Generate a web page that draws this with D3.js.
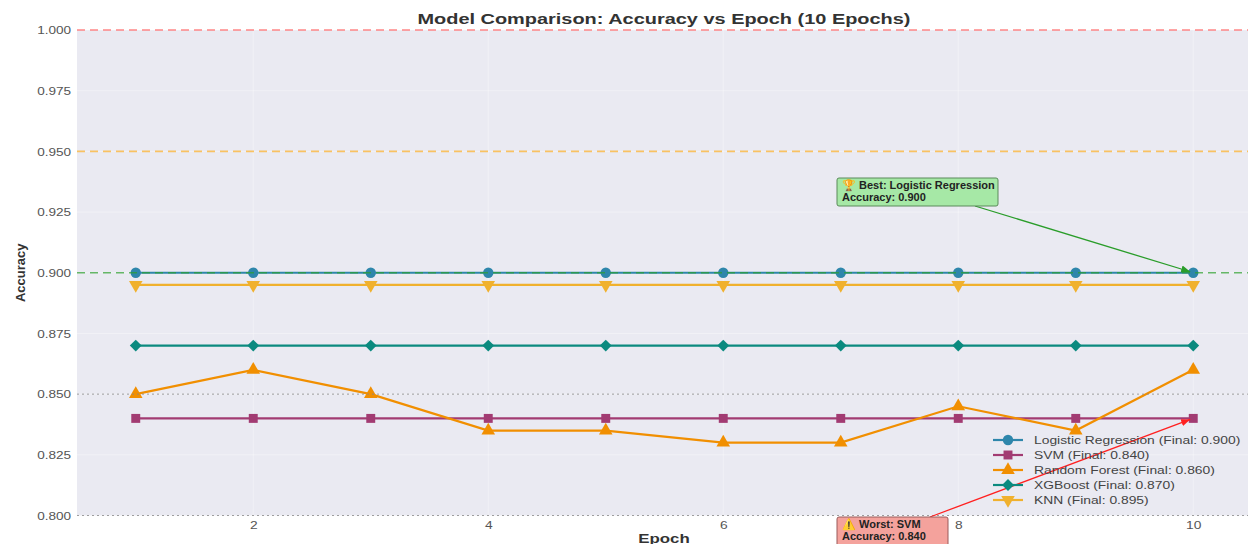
<!DOCTYPE html>
<html>
<head>
<meta charset="utf-8">
<script src="https://cdn.jsdelivr.net/npm/d3@7"></script>
<style>
  body { margin: 0; background: #fff; }
  svg { display: block; font-family: "Liberation Sans", Arial, sans-serif; }
</style>
</head>
<body>
<div id="chart"></div>
<script>
// data
const epochs = [1, 2, 3, 4, 5, 6, 7, 8, 9, 10];
const modelNames = ["Logistic Regression", "SVM", "Random Forest", "XGBoost", "KNN"];
const lrAcc = [0.900, 0.900, 0.900, 0.900, 0.900, 0.900, 0.900, 0.900, 0.900, 0.900];
const svmAcc = [0.840, 0.840, 0.840, 0.840, 0.840, 0.840, 0.840, 0.840, 0.840, 0.840];
const rfAcc = [0.850, 0.860, 0.850, 0.835, 0.835, 0.830, 0.830, 0.845, 0.835, 0.860];
const xgbAcc = [0.870, 0.870, 0.870, 0.870, 0.870, 0.870, 0.870, 0.870, 0.870, 0.870];
const knnAcc = [0.895, 0.895, 0.895, 0.895, 0.895, 0.895, 0.895, 0.895, 0.895, 0.895];
const xTicks = [2, 4, 6, 8, 10];
const yTicks = [0.800, 0.825, 0.850, 0.875, 0.900, 0.925, 0.950, 0.975, 1.000];

const width = 1248, height = 544;
const margin = { t: 30, r: 0, b: 28.5, l: 77 };

const seriesAll = [
  { name: modelNames[0], values: lrAcc, color: "#2E86AB", marker: d3.symbolCircle, size: 85 },
  { name: modelNames[1], values: svmAcc, color: "#A23B72", marker: d3.symbolSquare, size: 80 },
  { name: modelNames[2], values: rfAcc, color: "#F18F01", marker: d3.symbolTriangle, size: 80 },
  { name: modelNames[3], values: xgbAcc, color: "#0B8A7F", marker: d3.symbolSquare, size: 70, rot: 45 },
  { name: modelNames[4], values: knnAcc, color: "#F0B12E", marker: d3.symbolTriangle, size: 80, rot: 180 }
];

// text in the picture is drawn a little wider than the font's natural width
function stretch(sel, sx) {
  sel.each(function() {
    const t = d3.select(this);
    const x = +t.attr('x') || 0, y = +t.attr('y') || 0;
    t.attr('transform', `translate(${x},${y}) scale(${sx},1) translate(${-x},${-y})`);
  });
}

const svg = d3.select('#chart').append('svg')
  .attr('width', width)
  .attr('height', height);

const scaleX = d3.scaleLinear().domain([0.5, 10.5]).range([margin.l, 1252]);
const scaleY = d3.scaleLinear().domain([0.8, 1.0]).range([height - margin.b, margin.t]);

svg.append('clipPath').attr('id', 'plotclip')
  .append('rect')
  .attr('x', margin.l).attr('y', margin.t - 6)
  .attr('width', width - margin.l).attr('height', scaleY(0.8) - margin.t + 6);

// background
svg.append('rect')
  .attr('x', margin.l).attr('y', scaleY(1.0))
  .attr('width', width - margin.l).attr('height', scaleY(0.8) - scaleY(1.0))
  .style('fill', '#EAEAF2');

const plot = svg.append('g').attr('clip-path', 'url(#plotclip)');

// faint grid
plot.selectAll('.gy').data(yTicks).enter().append('line')
  .attr('x1', margin.l).attr('x2', width)
  .attr('y1', d => scaleY(d)).attr('y2', d => scaleY(d))
  .style('stroke', '#fff').style('stroke-width', 1).style('opacity', 0.35);
plot.selectAll('.gx').data(xTicks).enter().append('line')
  .attr('y1', scaleY(1.0)).attr('y2', scaleY(0.8))
  .attr('x1', d => scaleX(d)).attr('x2', d => scaleX(d))
  .style('stroke', '#fff').style('stroke-width', 1).style('opacity', 0.35);

// series
const line = d3.line()
  .x((d, i) => scaleX(epochs[i]))
  .y(d => scaleY(d));

seriesAll.forEach(s => {
  plot.append('path')
    .datum(s.values)
    .attr('d', line)
    .style('fill', 'none')
    .style('stroke', s.color)
    .style('stroke-width', 2.2);
  plot.selectAll(null).data(s.values).enter().append('path')
    .attr('d', d3.symbol().type(s.marker).size(s.size))
    .attr('transform', (d, i) => `translate(${scaleX(epochs[i])},${scaleY(d)}) rotate(${s.rot || 0})`)
    .style('fill', s.color);
});

// reference lines
const refLines = [
  { v: 1.00, color: "#FF6B6B", dash: "8,5", w: 1.6, op: 0.8 },
  { v: 0.95, color: "#FFA500", dash: "8,5", w: 1.6, op: 0.6 },
  { v: 0.90, color: "#2CA02C", dash: "8,5", w: 1.6, op: 0.7 },
  { v: 0.85, color: "#888", dash: "2,3", w: 1, op: 0.8 },
  { v: 0.80, color: "#888", dash: "2,3", w: 1, op: 0.8 }
];
svg.selectAll('.ref').data(refLines).enter().append('line')
  .attr('x1', margin.l).attr('x2', width)
  .attr('y1', d => scaleY(d.v)).attr('y2', d => scaleY(d.v))
  .style('stroke', d => d.color)
  .style('stroke-dasharray', d => d.dash)
  .style('stroke-width', d => d.w)
  .style('opacity', d => d.op);

// axes
const axisY = d3.axisLeft(scaleY).tickValues(yTicks).tickFormat(d3.format('.3f')).tickSize(0).tickPadding(5);
const axisX = d3.axisBottom(scaleX).tickValues(xTicks).tickSize(0).tickPadding(5);

const gy = svg.append('g').attr('transform', `translate(${margin.l},0)`).call(axisY);
const gx = svg.append('g').attr('transform', `translate(0,${scaleY(0.8)})`).call(axisX);
[gx, gy].forEach(g => {
  g.select('.domain').remove();
  g.selectAll('text').style('font-size', '11.5px').style('fill', '#555').style('font-family', '"Liberation Sans", Arial, sans-serif');
});
gy.selectAll('text').attr('transform', 'scale(1.18,1)');
gx.selectAll('text').attr('transform', 'scale(1.2,1)');

// titles
svg.append('text')
  .attr('x', 664).attr('y', 24)
  .attr('text-anchor', 'middle')
  .style('font-size', '15px').style('font-weight', 'bold').style('fill', '#333')
  .text('Model Comparison: Accuracy vs Epoch (10 Epochs)')
  .call(stretch, 1.33);
svg.append('text')
  .attr('x', 664).attr('y', 543)
  .attr('text-anchor', 'middle')
  .style('font-size', '13px').style('font-weight', 'bold').style('fill', '#333')
  .text('Epoch')
  .call(stretch, 1.3);
svg.append('text')
  .attr('transform', `translate(25,${scaleY(0.9)}) rotate(-90)`)
  .attr('text-anchor', 'middle')
  .style('font-size', '13px').style('font-weight', 'bold').style('fill', '#333')
  .text('Accuracy');

// annotations
svg.append('defs').selectAll('marker').data([["arrG", "#2A9D2A"], ["arrR", "#FF2020"]]).enter()
  .append('marker')
  .attr('id', d => d[0])
  .attr('viewBox', '0 0 10 10').attr('refX', 10).attr('refY', 5)
  .attr('markerWidth', 7).attr('markerHeight', 7).attr('orient', 'auto')
  .append('path').attr('d', 'M0,1 L10,5 L0,9 Z').style('fill', d => d[1]);

function annotate(x0, y0, w, h, fill, stroke, lines, ax, ay, px, py, arrowColor, markerId) {
  svg.append('line')
    .attr('x1', ax).attr('y1', ay)
    .attr('x2', px).attr('y2', py)
    .style('stroke', arrowColor).style('stroke-width', 1.3)
    .attr('marker-end', `url(#${markerId})`);
  svg.append('rect')
    .attr('x', x0).attr('y', y0).attr('width', w).attr('height', h)
    .attr('rx', 2)
    .style('fill', fill).style('stroke', stroke).style('stroke-width', 1);
  lines.forEach((t, i) => {
    svg.append('text')
      .attr('x', x0 + 5).attr('y', y0 + 11 + i * 12)
      .style('font-size', '11px').style('font-weight', 'bold').style('fill', '#222')
      .text(t);
  });
}

const best = seriesAll[0];
const worst = seriesAll[1];
annotate(837, 178, 161, 28, "#A6E8A6", "#5A8A5A",
  [`\u{1F3C6} Best: ${best.name}`, `Accuracy: ${best.values[9].toFixed(3)}`],
  975, 206, scaleX(10) - 3, scaleY(best.values[9]) - 1, "#2A9D2A", "arrG");
annotate(837, 517, 111, 30, "#F4A29C", "#9A5A5A",
  [`\u26A0\uFE0F Worst: ${worst.name}`, `Accuracy: ${worst.values[9].toFixed(3)}`],
  930, 517, scaleX(10) - 3, scaleY(worst.values[9]) + 1, "#FF2020", "arrR");

// legend
const legend = svg.append('g').attr('transform', 'translate(993,440)');
const legendRows = legend.selectAll('g').data(seriesAll).enter().append('g')
  .attr('transform', (d, i) => `translate(0,${i * 15})`);
legendRows.append('line')
  .attr('x1', 0).attr('x2', 30)
  .style('stroke', d => d.color).style('stroke-width', 2.2);
legendRows.append('path')
  .attr('d', d => d3.symbol().type(d.marker).size(d.size)())
  .attr('transform', d => `translate(15,0) rotate(${d.rot || 0})`)
  .style('fill', d => d.color);
legendRows.append('text')
  .attr('x', 41).attr('y', 4)
  .style('font-size', '11px').style('fill', '#444')
  .text(d => `${d.name} (Final: ${d.values[9].toFixed(3)})`)
  .call(stretch, 1.26);
</script>
</body>
</html>
